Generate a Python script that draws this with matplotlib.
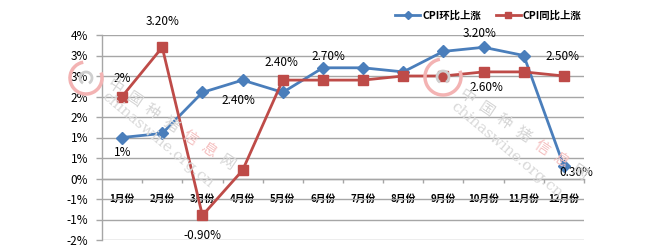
import matplotlib
matplotlib.use("Agg")
import matplotlib.pyplot as plt
from matplotlib.ticker import FixedLocator, FuncFormatter
from matplotlib.patches import Arc
from matplotlib.transforms import IdentityTransform
import math

plt.rcParams['font.family'] = ['Noto Sans CJK SC', 'DejaVu Sans']

months = ['1月份', '2月份', '3月份', '4月份', '5月份', '6月份', '7月份',
          '8月份', '9月份', '10月份', '11月份', '12月份']
blue_name = 'CPI环比上涨'
red_name = 'CPI同比上涨'
blue_vals = [1.0, 1.1, 2.1, 2.4, 2.1, 2.7, 2.7, 2.6, 3.1, 3.2, 3.0, 0.3]
red_vals = [2.0, 3.2, -0.9, 0.2, 2.4, 2.4, 2.4, 2.5, 2.5, 2.6, 2.6, 2.5]
y_ticks = [-1.5, -1.0, -0.5, 0.0, 0.5, 1.0, 1.5, 2.0, 2.5, 3.0, 3.5]

# data labels: (month index, text)
blue_labels = [(0, '1%'), (3, '2.40%'), (5, '2.70%'), (9, '3.20%'), (11, '0.30%')]
red_labels = [(0, '2%'), (1, '3.20%'), (2, '-0.90%'), (4, '2.40%'), (9, '2.60%'), (11, '2.50%')]
# pixel offsets for the labels (dx, dy) -- positive dy = up
blue_offs = [(1, -15), (-4, -20), (6, 11), (-4, 14), (12, -6)]
red_offs = [(0, 18), (0, 26), (0, -20), (-1, 18), (3, -16), (-1, 19)]

wm_chars = ['中', '国', '种', '猪', '信', '息', '网']
wm_site = 'chinaswine.org.cn'

BLUE = '#4A7EBB'
RED = '#BE4B48'
GRID = '#A6A6A6'

W, H = 660, 248
fig = plt.figure(figsize=(W / 100, H / 100), dpi=100)
L, R, T, B = 102, 584, 35, 240
ax = fig.add_axes([L / W, 1 - B / H, (R - L) / W, (B - T) / H])

x = list(range(len(months)))
ax.set_xlim(-0.5, len(months) - 0.5)
ax.set_ylim(y_ticks[0], y_ticks[-1])

# watermark
def wm(x0, y0, sx0, sy0, cx, cy, r):
    ang = 34
    dx, dy = math.cos(math.radians(ang)), math.sin(math.radians(ang))
    for k, ch in enumerate(wm_chars):
        col = '#f5c0c0' if ch in ('信', '息') else '#d6d6d6'
        px, py = x0 + k * 22.5 * dx, y0 + k * 22.5 * dy
        fig.text(px / W, 1 - py / H, ch, fontsize=11, color=col,
                 rotation=-ang, rotation_mode='anchor', ha='center', va='center', zorder=0)
    fig.text(sx0 / W, 1 - sy0 / H, wm_site, fontsize=11, color='#d9d9d9',
             family='DejaVu Serif', rotation=-40, rotation_mode='anchor',
             ha='left', va='center', zorder=0)
    fig.patches.append(Arc((cx, H - cy), 2 * r, 2 * r, theta1=100, theta2=380,
                           transform=IdentityTransform(), edgecolor='#f3b3b3',
                           linewidth=2.5, zorder=0))
    fig.patches.append(Arc((cx, H - cy), 12, 12, theta1=-60, theta2=240,
                           transform=IdentityTransform(), edgecolor='#cfcfcf',
                           linewidth=2, zorder=0))

wm(115, 87, 104, 95, 86, 78, 16)
wm(467, 97, 453, 105, 443, 77, 18)

ax.set_facecolor('none')
ax.plot(x, blue_vals, color=BLUE, linewidth=2.0, marker='D', markersize=6.5,
        label=blue_name, zorder=3)
ax.plot(x, red_vals, color=RED, linewidth=2.0, marker='s', markersize=7.5,
        label=red_name, zorder=3)

for (i, txt), (dx, dy) in zip(blue_labels, blue_offs):
    ax.annotate(txt, (x[i], blue_vals[i]), xytext=(dx * 0.72, dy * 0.72),
                textcoords='offset points', ha='center', va='center', fontsize=8.5,
                color='#000000', zorder=5)
for (i, txt), (dx, dy) in zip(red_labels, red_offs):
    ax.annotate(txt, (x[i], red_vals[i]), xytext=(dx * 0.72, dy * 0.72),
                textcoords='offset points', ha='center', va='center', fontsize=8.5,
                color='#000000', zorder=5, annotation_clip=False)

# grid
ax.yaxis.set_major_locator(FixedLocator(y_ticks))
ax.yaxis.set_major_formatter(FuncFormatter(
    lambda v, p: '%d%%' % (math.floor(abs(v) + 0.5) * (1 if v >= 0 else -1))))
ax.grid(axis='y', color=GRID, linewidth=1.0)
ax.set_axisbelow(True)
for s in ['top', 'right']:
    ax.spines[s].set_visible(False)
ax.spines['left'].set_color(GRID)
ax.spines['left'].set_linewidth(1.0)
ax.spines['bottom'].set_position(('data', 0))
ax.spines['bottom'].set_color(GRID)
ax.spines['bottom'].set_linewidth(1.0)

ax.tick_params(axis='y', which='major', direction='out', length=4, width=1,
               color=GRID, labelsize=8.5, pad=6)
ax.set_xticks(x)
ax.set_xticklabels(months, fontsize=7, fontweight='bold')
ax.set_xticks([i + 0.5 for i in range(len(months))], minor=True)
ax.tick_params(axis='x', which='major', length=0, pad=11)
ax.tick_params(axis='x', which='minor', direction='out', length=3, width=1, color=GRID)

leg = fig.legend(loc='upper left', bbox_to_anchor=(386 / W, 1 - 1 / H), ncol=2,
                 frameon=False, fontsize=7.5, handlelength=2.4, columnspacing=1.4,
                 handletextpad=0.2, markerscale=0.6)
for t in leg.get_texts():
    t.set_fontweight('bold')

fig.savefig('out.png', dpi=100)
